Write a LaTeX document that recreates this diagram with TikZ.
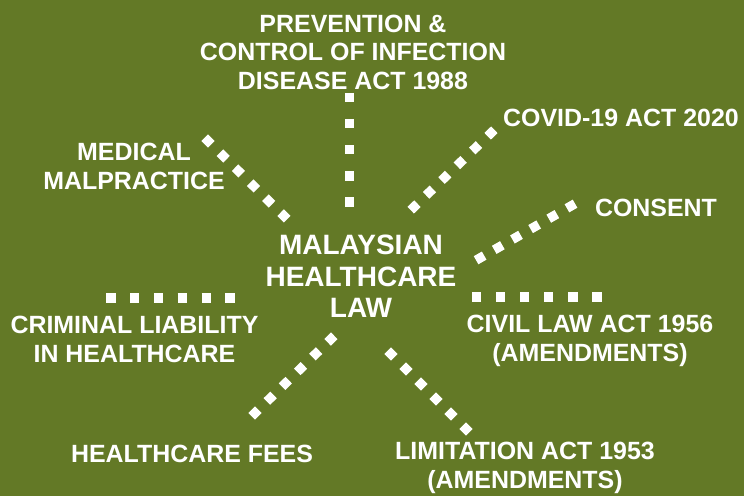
\documentclass[tikz,border=0pt]{standalone}
\usepackage{fontspec}
\setmainfont{Liberation Sans}
\usepackage{tikz}
\definecolor{lawgreen}{RGB}{99,121,38}

\begin{document}
\begin{tikzpicture}[x=0.75pt,y=-0.75pt,
	topic/.style={text=white,inner sep=0pt,align=center,font=\bfseries\fontsize{18.7}{21.4}\selectfont},
	hub/.style={text=white,inner sep=0pt,align=center,font=\bfseries\fontsize{21}{23.6}\selectfont},
	dotrow/.style={white,line width=7pt,dash pattern=on 7pt off #1,shorten <=-3.5pt,shorten >=-5pt}]
	\fill[lawgreen] (0,0) rectangle (744,496);
	\node[hub] (law) at (361,276.5) {MALAYSIAN\\HEALTHCARE\\LAW};
	\node[topic] (prev) at (353,52) {PREVENTION \&\\CONTROL OF INFECTION\\DISEASE ACT 1988};
	\node[topic] (covid) at (621,117.5) {COVID-19 ACT 2020};
	\node[topic] (consent) at (656,207.5) {CONSENT};
	\node[topic] (malp) at (134,166.5) {MEDICAL\\MALPRACTICE};
	\node[topic] (crim) at (134.5,339.5) {CRIMINAL LIABILITY\\IN HEALTHCARE};
	\node[topic] (civil) at (590,341) {CIVIL LAW ACT 1956\\(AMENDMENTS)};
	\node[topic] (fees) at (192,454) {HEALTHCARE FEES};
	\node[topic] (limit) at (525,468) {LIMITATION ACT 1953\\(AMENDMENTS)};
	\coordinate (prevA) at (349.5,97.5); \coordinate (prevB) at (349.5,202);
	\coordinate (covA) at (491,133); \coordinate (covB) at (414,207);
	\coordinate (conA) at (571,206); \coordinate (conB) at (480,258);
	\coordinate (civA) at (597,297); \coordinate (civB) at (476.5,297);
	\coordinate (limA) at (466,429); \coordinate (limB) at (391,354);
	\coordinate (feeA) at (255,413); \coordinate (feeB) at (331,339);
	\coordinate (crimA) at (111,298); \coordinate (crimB) at (230,298);
	\coordinate (malA) at (208,141); \coordinate (malB) at (284,216);
	\foreach \a/\b/\gap in {prevA/prevB/12.6,covA/covB/9.0,conA/conB/8.7,civA/civB/11.1,
		limA/limB/8.9,feeA/feeB/8.9,crimA/crimB/10.85,malA/malB/9.0}{
		\draw[dotrow=\gap pt] (\a) -- (\b);}
\end{tikzpicture}
\end{document}
